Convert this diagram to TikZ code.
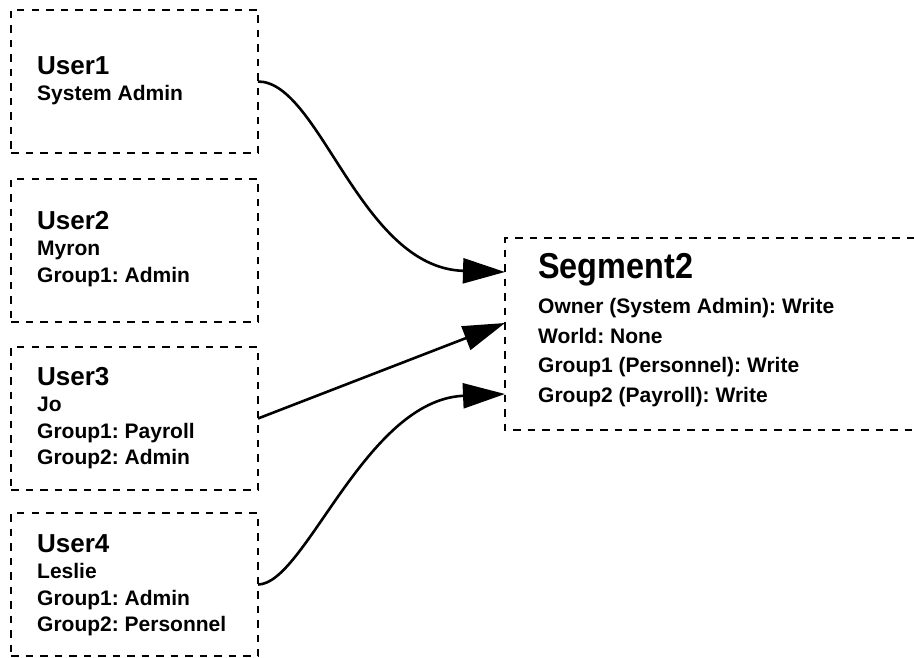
\documentclass[tikz,border=0pt]{standalone}
\usepackage{fontspec}
\setmainfont{Liberation Sans}
\newfontfamily\segtitlefont[FakeStretch=0.9]{Liberation Sans}
\usetikzlibrary{arrows.meta}
\frenchspacing
\begin{document}
\begin{tikzpicture}[x=1pt,y=-1pt,
  dashline/.style={dash pattern=on 7.5pt off 7pt, line width=2.4pt},
  userbox/.style={draw, dashline, minimum width=247pt, minimum height=143pt, inner sep=0pt, outer sep=0pt, anchor=north west},
  body/.style={inner sep=0pt, anchor=north west, align=left, font=\bfseries\fontsize{21}{26.5}\selectfont},
  link/.style={line width=2.6pt, -{Triangle[length=42pt,width=25pt]}}]
\useasboundingbox (0,0) rectangle (914,658);

% user boxes
\node[userbox] (u1) at (11,10) {};
\node[userbox] (u2) at (11,179) {};
\node[userbox] (u3) at (11,347) {};
\node[userbox] (u4) at (11,513) {};

% segment box (open to the right edge)
\node[inner sep=0pt, outer sep=0pt, minimum width=409pt, minimum height=192pt, anchor=north west] (seg) at (505,238) {};
\draw[dashline] (seg.north east) -- (seg.north west) -- (seg.south west) -- (seg.south east);

% texts
\node[body] (t1) at (37,56) {{\fontsize{26}{26}\selectfont User1}\\System Admin};
\node[body] (t2) at (37,211) {{\fontsize{26}{26}\selectfont User2}\\Myron\\Group1: Admin};
\node[body] (t3) at (37,367) {{\fontsize{26}{26}\selectfont User3}\\Jo\\Group1: Payroll\\Group2: Admin};
\node[body] (t4) at (37,534) {{\fontsize{26}{26}\selectfont User4}\\Leslie\\Group1: Admin\\Group2: Personnel};
\node[body, font=\bfseries\fontsize{21}{29.5}\selectfont] (t5) at (538,253)
  {{\segtitlefont\bfseries\fontsize{36}{36}\selectfont Segment2}\\[6pt]Owner (System Admin): Write\\World: None\\Group1 (Personnel): Write\\Group2 (Payroll): Write};

% arrow targets on the segment's left side
\coordinate (s1) at ([yshift=-34pt]seg.north west);
\coordinate (s2) at ([yshift=-85pt]seg.north west);
\coordinate (s3) at ([yshift=-156pt]seg.north west);

\draw[link] (u1.east) .. controls +(62,0) and +(-145,-4) .. (s1);
\draw[link] (u3.east) -- (s2);
\draw[link] (u4.east) .. controls +(47,0) and +(-140,6) .. (s3);
\end{tikzpicture}
\end{document}
